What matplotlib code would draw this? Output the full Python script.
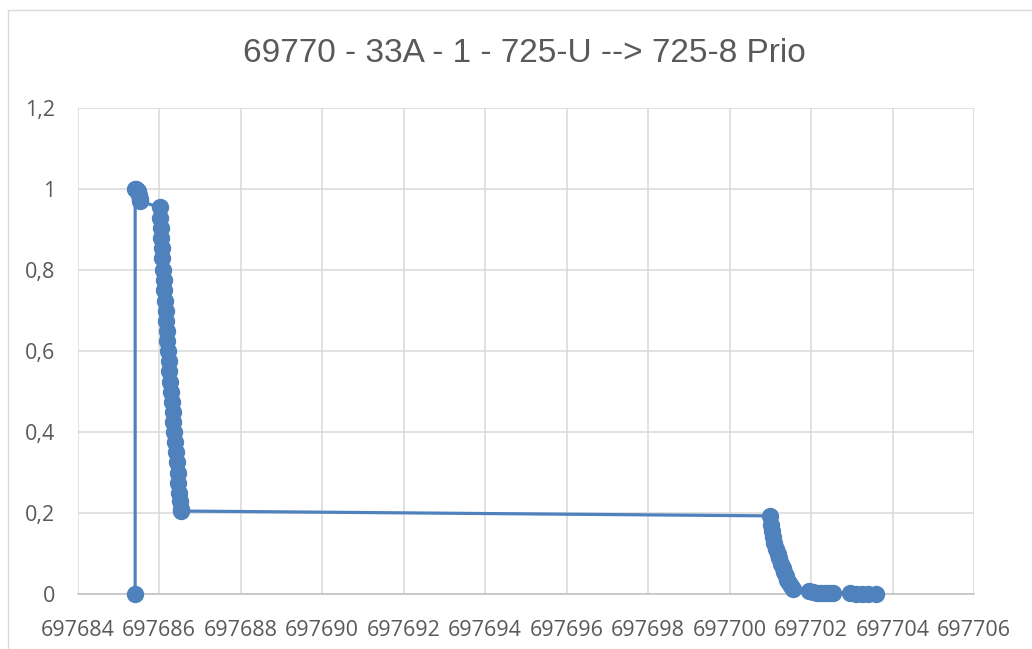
import matplotlib
matplotlib.use("Agg")
import matplotlib.pyplot as plt
from matplotlib.ticker import FuncFormatter, MultipleLocator
from matplotlib.patches import Rectangle

title = "69770 - 33A - 1 - 725-U --> 725-8 Prio"

x_vals = [
    697685.41, 697685.41, 697685.44, 697685.47, 697685.50, 697685.52, 697685.54,
    697686.02, 697686.03, 697686.04, 697686.05, 697686.06, 697686.08, 697686.09,
    697686.11, 697686.13, 697686.14, 697686.16, 697686.17, 697686.19, 697686.20,
    697686.22, 697686.24, 697686.25, 697686.27, 697686.29, 697686.31, 697686.33,
    697686.35, 697686.37, 697686.39, 697686.41, 697686.43, 697686.45, 697686.47,
    697686.49, 697686.51, 697686.53, 697686.54,
    697701.00, 697701.02, 697701.04, 697701.07, 697701.10, 697701.14, 697701.18,
    697701.22, 697701.26, 697701.30, 697701.34, 697701.38, 697701.42, 697701.46,
    697701.50, 697701.55,
    697701.95, 697702.05, 697702.15, 697702.25, 697702.35, 697702.45, 697702.55,
    697702.95, 697703.10, 697703.25, 697703.40, 697703.60,
]
y_vals = [
    0.0, 1.0, 1.0, 0.995, 0.985, 0.975, 0.97,
    0.955, 0.93, 0.905, 0.88, 0.855, 0.83, 0.80,
    0.775, 0.75, 0.725, 0.70, 0.675, 0.65, 0.625,
    0.60, 0.575, 0.55, 0.525, 0.50, 0.475, 0.45,
    0.425, 0.40, 0.375, 0.35, 0.325, 0.30, 0.275,
    0.25, 0.23, 0.21, 0.205,
    0.193, 0.17, 0.155, 0.14, 0.125, 0.11, 0.10,
    0.09, 0.075, 0.065, 0.055, 0.045, 0.035, 0.028,
    0.02, 0.013,
    0.008, 0.004, 0.003, 0.003, 0.002, 0.002, 0.002,
    0.002, 0.001, 0.001, 0.001, 0.001,
]

x_min, x_max, x_step = 697684, 697706, 2
y_min, y_max, y_step = 0, 1.2, 0.2

blue = "#4F81BD"
grid_c = "#D9D9D9"
text_c = "#595959"

fig = plt.figure(figsize=(10.32, 6.49), dpi=100)
fig.patch.set_facecolor("white")
fig.patches.append(Rectangle((8 / 1032, -0.1), 1.2, 1 - 10 / 649 + 0.1,
                             transform=fig.transFigure, fill=False,
                             edgecolor=grid_c, linewidth=1.0, zorder=0))

ax = fig.add_axes([77.7 / 1032, 1 - 594 / 649, (974 - 77.7) / 1032, (594 - 108.3) / 649])
ax.plot(x_vals, y_vals, color=blue, linewidth=2.3, marker="o", markersize=11.5,
        markerfacecolor=blue, markeredgecolor=blue, zorder=3, clip_on=False)

ax.set_xlim(x_min, x_max)
ax.set_ylim(y_min, y_max)
ax.xaxis.set_major_locator(MultipleLocator(x_step))
ax.yaxis.set_major_locator(MultipleLocator(y_step))
ax.xaxis.set_major_formatter(FuncFormatter(lambda v, p: f"{int(round(v))}"))
ax.yaxis.set_major_formatter(FuncFormatter(lambda v, p: f"{v:.1f}".rstrip("0").rstrip(".").replace(".", ",")))

ax.grid(True, color=grid_c, linewidth=1.1)
ax.set_axisbelow(True)
for s in ["top", "right", "left"]:
    ax.spines[s].set_visible(False)
ax.spines["bottom"].set_color("#BFBFBF")
ax.spines["bottom"].set_linewidth(1.1)
ax.tick_params(axis="both", length=0, colors=text_c, labelsize=15.5)
ax.tick_params(axis="x", pad=19)
ax.tick_params(axis="y", pad=16)
for lab in ax.get_xticklabels() + ax.get_yticklabels():
    lab.set_fontfamily(["Open Sans", "DejaVu Sans"])

fig.text(0.508, 1 - 54 / 649, title, ha="center", va="center", color=text_c,
         fontsize=24, family=["Liberation Sans Narrow", "Liberation Sans", "DejaVu Sans"])

fig.savefig("out.png", dpi=100)
